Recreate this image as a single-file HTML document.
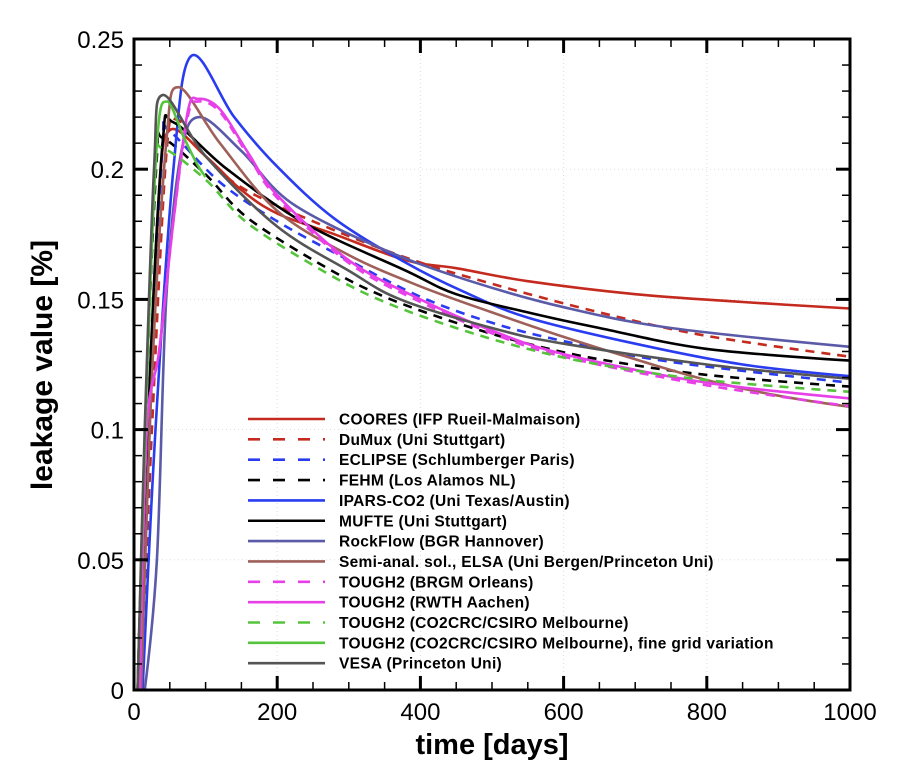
<!DOCTYPE html>
<html><head><meta charset="utf-8"><style>
html,body{margin:0;padding:0;background:#fff;}
svg{display:block;font-family:"Liberation Sans",Arial,sans-serif;}
</style></head><body>
<svg id="s" width="906" height="766" viewBox="0 0 906 766" xmlns="http://www.w3.org/2000/svg">
<g id="grid" stroke="#ddd" stroke-width="1" stroke-dasharray="1,3"></g>
<g id="curves" fill="none" stroke-width="2.6" stroke-linejoin="round"></g>
<rect x="134" y="39" width="716" height="651" fill="none" stroke="#000" stroke-width="3"/>
<g id="ticks" stroke="#000"></g>
<g id="labels" font-size="24" fill="#000"></g>
<text x="492" y="754" font-size="29" font-weight="bold" text-anchor="middle">time [days]</text>
<text transform="translate(52,365) rotate(-90)" font-size="30" font-weight="bold" text-anchor="middle">leakage value [%]</text>
<g id="legend" font-size="15.5" font-weight="bold" letter-spacing="0.3"></g>
</svg>
<script>
const X=t=>134+t*0.716, Y=v=>690-v*2604;
const NS="http://www.w3.org/2000/svg";
function el(p,n,a,txt){const e=document.createElementNS(NS,n);for(const k in a)e.setAttribute(k,a[k]);if(txt!=null)e.textContent=txt;document.getElementById(p).appendChild(e);return e;}
for(let t=200;t<1000;t+=200)el("grid","line",{x1:X(t),y1:39,x2:X(t),y2:690});
for(let v=0.05;v<0.249;v+=0.05)el("grid","line",{x1:134,y1:Y(v),x2:850,y2:Y(v)});
for(let t=0;t<=1000;t+=50){const maj=t%200==0,L=maj?14:8,w=maj?3:1.5;
 el("ticks","line",{x1:X(t),y1:690,x2:X(t),y2:690-L,"stroke-width":w});
 el("ticks","line",{x1:X(t),y1:39,x2:X(t),y2:39+L,"stroke-width":w});
 if(maj)el("labels","text",{x:X(t),y:720,"text-anchor":"middle"},String(t));}
for(let i=0;i<=25;i++){const v=i/100,maj=i%5==0,L=maj?14:8,w=maj?3:1.5;
 el("ticks","line",{x1:134,y1:Y(v),x2:134+L,y2:Y(v),"stroke-width":w});
 el("ticks","line",{x1:850,y1:Y(v),x2:850-L,y2:Y(v),"stroke-width":w});
 if(maj)el("labels","text",{x:124,y:Y(v)+9,"text-anchor":"end"},v==0?"0":String(+v.toFixed(2)));}
function path(pts){let p=pts.map(q=>[X(q[0]),Y(q[1])]);let d="M"+p[0][0]+","+p[0][1];
 for(let i=0;i<p.length-1;i++){const p0=p[Math.max(0,i-1)],p1=p[i],p2=p[i+1],p3=p[Math.min(p.length-1,i+2)];
  const t=i==0?0:1/6;const t2=(i+2>=p.length)?0:1/6;
  const c1=[p1[0]+(p2[0]-p0[0])*t,p1[1]+(p2[1]-p0[1])*t],c2=[p2[0]-(p3[0]-p1[0])*t2,p2[1]-(p3[1]-p1[1])*t2];
  d+=` C${c1[0].toFixed(1)},${c1[1].toFixed(1)} ${c2[0].toFixed(1)},${c2[1].toFixed(1)} ${p2[0].toFixed(1)},${p2[1].toFixed(1)}`;}
 return d;}
const S=[
["COORES (IFP Rueil-Malmaison)","#c42a1e","",[[8,0],[20,0.1],[35,0.19],[50,0.215],[100,0.205],[150,0.192],[200,0.183],[280,0.175],[380,0.165],[450,0.162],[550,0.157],[700,0.152],[850,0.149],[1000,0.1465]]],
["DuMux (Uni Stuttgart)","#c42a1e","9,7",[[10,0],[25,0.1],[45,0.205],[60,0.219],[100,0.205],[150,0.193],[250,0.18],[380,0.166],[500,0.156],[650,0.145],[800,0.136],[1000,0.128]]],
["ECLIPSE (Schlumberger Paris)","#2a3cf0","9,7",[[10,0],[25,0.12],[40,0.21],[48,0.215],[120,0.195],[200,0.18],[300,0.165],[400,0.151],[500,0.141],[600,0.134],[750,0.126],[1000,0.118]]],
["FEHM (Los Alamos NL)","#000000","9,7",[[5,0],[18,0.12],[32,0.205],[40,0.212],[100,0.198],[160,0.181],[270,0.162],[350,0.151],[450,0.141],[550,0.133],[650,0.127],[800,0.121],[1000,0.1165]]],
["IPARS-CO2 (Uni Texas/Austin)","#2a3cf0","",[[12,0],[30,0.1],[55,0.2],[80,0.2435],[140,0.22],[200,0.201],[280,0.181],[380,0.164],[460,0.153],[550,0.143],[700,0.133],[850,0.125],[1000,0.1205]]],
["MUFTE (Uni Stuttgart)","#000000","",[[8,0],[22,0.12],[40,0.21],[55,0.218],[130,0.2],[240,0.179],[380,0.161],[450,0.152],[550,0.145],[650,0.139],[800,0.131],[1000,0.1265]]],
["RockFlow (BGR Hannover)","#5a5aa8","",[[15,0],[32,0.05],[45,0.15],[65,0.205],[91,0.22],[150,0.207],[220,0.187],[350,0.169],[470,0.157],[600,0.147],[750,0.139],[1000,0.1318]]],
["Semi-anal. sol., ELSA (Uni Bergen/Princeton Uni)","#a0605a","",[[10,0],[25,0.12],[45,0.21],[62,0.2315],[120,0.21],[200,0.184],[300,0.167],[400,0.155],[500,0.145],[600,0.1356],[700,0.127],[800,0.119],[900,0.113],[1000,0.1087]]],
["TOUGH2 (BRGM Orleans)","#e840e8","9,7",[[8,0],[18,0.1],[35,0.13],[55,0.18],[75,0.22],[90,0.226],[120,0.222],[160,0.205],[200,0.189],[300,0.164],[400,0.149],[500,0.137],[600,0.128],[800,0.117],[1000,0.109]]],
["TOUGH2 (RWTH Aachen)","#e840e8","",[[8,0],[18,0.1],[35,0.13],[55,0.18],[75,0.222],[90,0.227],[120,0.223],[160,0.206],[200,0.19],[300,0.165],[400,0.15],[500,0.138],[600,0.129],[800,0.118],[1000,0.112]]],
["TOUGH2 (CO2CRC/CSIRO Melbourne)","#55c43c","9,7",[[5,0],[18,0.12],[30,0.2],[40,0.208],[100,0.196],[160,0.179],[270,0.16],[350,0.149],[450,0.139],[550,0.131],[650,0.125],[800,0.119],[1000,0.1145]]],
["TOUGH2 (CO2CRC/CSIRO Melbourne), fine grid variation","#55c43c","",[[5,0],[18,0.12],[32,0.21],[46,0.226],[70,0.212],[88,0.202],[100,0.197]]],
["VESA (Princeton Uni)","#555555","",[[5,0],[15,0.1],[28,0.2],[40,0.2285],[100,0.205],[200,0.178],[300,0.161],[372,0.15],[500,0.139],[600,0.133],[800,0.125],[1000,0.1195]]]
];
S.forEach((s,i)=>{
 const a={d:path(s[3]),stroke:s[1]};if(s[2])a["stroke-dasharray"]=s[2];el("curves","path",a);
 const y=419+i*20.35;
 const la={x1:248,y1:y,x2:325,y2:y,stroke:s[1],"stroke-width":2.6};if(s[2])la["stroke-dasharray"]="12,13";
 el("legend","line",la);
 el("legend","text",{x:339,y:y+5.5},s[0]);
});
</script>
</body></html>
